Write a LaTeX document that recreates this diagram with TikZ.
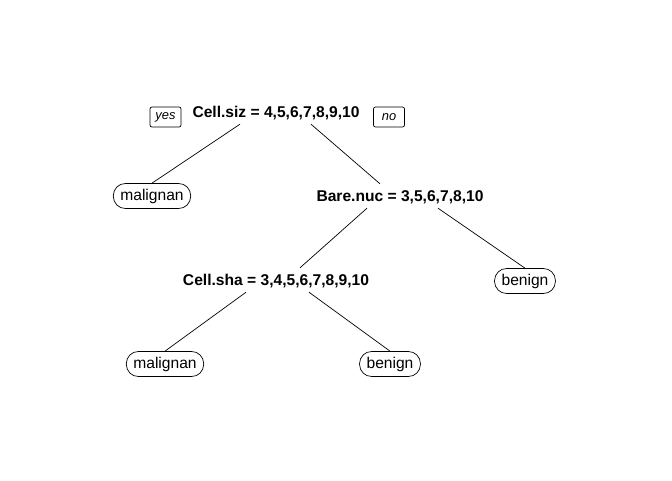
\documentclass[tikz,border=0pt]{standalone}
\usepackage{fontspec}
\setmainfont{Liberation Sans}
\usetikzlibrary{positioning}

\tikzset{
  split/.style={font=\fontsize{15.6}{18}\selectfont\bfseries, inner sep=5pt, text height=12.5pt, text depth=1.5pt},
  leaf/.style={draw, line width=0.7pt, rounded corners=12pt, font=\fontsize{15.6}{18}\selectfont, inner xsep=7pt, inner ysep=5pt, text height=12pt, text depth=3pt},
  yesno/.style={draw, line width=0.7pt, rounded corners=2pt, font=\fontsize{12.9}{15}\selectfont\itshape, minimum width=31pt, minimum height=20pt, inner sep=0pt},
  branch/.style={line width=0.7pt}
}

\begin{document}
\begin{tikzpicture}[x=1pt,y=-1pt]
			\useasboundingbox (0,0) rectangle (672,480);
			% split nodes
			\node[split] (cellsiz) at (276,112) {Cell.siz = 4,5,6,7,8,9,10};
			\node[split] (barenuc) at (400,196) {Bare.nuc = 3,5,6,7,8,10};
			\node[split] (cellsha) at (276,280) {Cell.sha = 3,4,5,6,7,8,9,10};
			% leaves
			\node[leaf] (malignanA) at (152,196) {malignan};
			\node[leaf] (benignA) at (525,281) {benign};
			\node[leaf] (malignanB) at (165,364) {malignan};
			\node[leaf] (benignB) at (390,364) {benign};
			% yes / no
			\node[yesno] (yes) at (165.5,117) {yes};
			\node[yesno] (no) at (389,117) {no};
			% branches
			\draw[branch] ([xshift=-36pt]cellsiz.south) -- (malignanA.north);
			\draw[branch] ([xshift=35pt]cellsiz.south) -- ([xshift=-20pt]barenuc.north);
			\draw[branch] ([xshift=-33pt]barenuc.south) -- ([xshift=24pt]cellsha.north);
			\draw[branch] ([xshift=38pt]barenuc.south) -- (benignA.north);
			\draw[branch] ([xshift=-30pt]cellsha.south) -- (malignanB.north);
			\draw[branch] ([xshift=33pt]cellsha.south) -- (benignB.north);
		\end{tikzpicture}
\end{document}
